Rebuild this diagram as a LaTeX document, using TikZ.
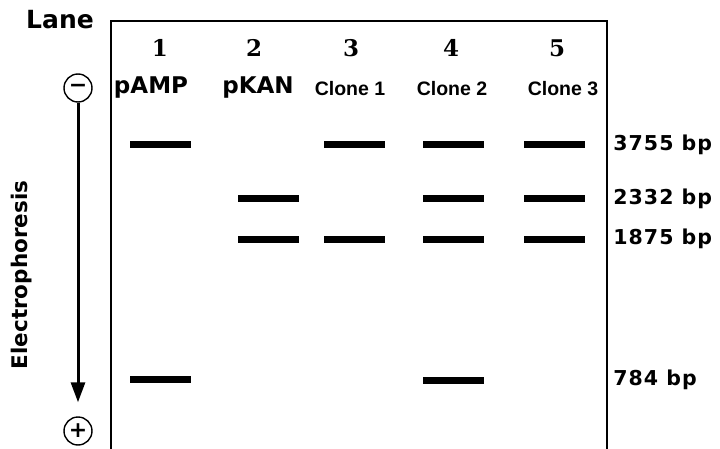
\documentclass[tikz,border=0pt]{standalone}
\usepackage{fontspec}
\newfontfamily\gelfont[LetterSpace=5]{DejaVu Sans}
\newfontfamily\headfont{DejaVu Sans}
\newfontfamily\numfont{DejaVu Serif}
\newfontfamily\clonefont{Liberation Sans}
\usetikzlibrary{arrows.meta,positioning}

\begin{document}
\begin{tikzpicture}[x=1pt,y=-1pt,thick,
  band/.style={rectangle,fill=black,minimum width=61pt,minimum height=7pt,inner sep=0pt},
  num label/.style={font=\numfont\fontsize{23}{23}\selectfont\bfseries},
  name label/.style={font=\headfont\fontsize{23}{23}\selectfont\bfseries},
  clone label/.style={font=\clonefont\fontsize{19.5}{19.5}\selectfont\bfseries},
  size label/.style={anchor=west,inner sep=0pt,font=\gelfont\fontsize{20.5}{20.5}\selectfont\bfseries},
  pole/.style={circle,draw,line width=1.4pt,minimum size=28pt,inner sep=0pt,font=\headfont\fontsize{22}{22}\selectfont\bfseries}]

  \useasboundingbox (0,0) rectangle (720,449);

  % gel frame
  \draw[line width=1.6pt] (111,449) -- (111,21) -- (607,21) -- (607,449);

  \node[font=\headfont\fontsize{25}{25}\selectfont\bfseries] (lane) at (60,20) {Lane};

  % lane headings
  \node[num label] (n1) at (160,48) {1};
  \node[num label] (n2) at (254,48) {2};
  \node[num label] (n3) at (351,48) {3};
  \node[num label] (n4) at (451,48) {4};
  \node[num label] (n5) at (557,48) {5};
  \node[name label] (l1) at (151,88) {pAMP};
  \node[name label] (l2) at (258,88) {pKAN};
  \node[clone label] (l3) at (350,89) {Clone 1};
  \node[clone label] (l4) at (452,89) {Clone 2};
  \node[clone label] (l5) at (563,89) {Clone 3};

  % bands
  \node[band] (b1a) at (160,145) {};
  \node[band] (b1d) at (160,379) {};
  \node[band] (b2b) at (268,199) {};
  \node[band] (b2c) at (268,239) {};
  \node[band] (b3a) at (354,145) {};
  \node[band] (b3c) at (354,239) {};
  \node[band] (b4a) at (453,145) {};
  \node[band] (b4b) at (453,199) {};
  \node[band] (b4c) at (453,239) {};
  \node[band] (b4d) at (453,380) {};
  \node[band] (b5a) at (554,145) {};
  \node[band] (b5b) at (554,199) {};
  \node[band] (b5c) at (554,239) {};

  % sizes
  \node[size label] (s1) at (613,145) {3755 bp};
  \node[size label] (s2) at (613,199) {2332 bp};
  \node[size label] (s3) at (613,239) {1875 bp};
  \node[size label] (s4) at (613,380) {784 bp};

  % direction of run
  \node[pole] (minus) at (78,88) {−};
  \node[pole] (plus) at (78,431) {+};
  \draw[-{Triangle[length=20pt,width=14pt]},line width=3pt,shorten >=14pt] (minus) -- (plus);
  \node[rotate=90,font=\headfont\fontsize{21.5}{21.5}\selectfont\bfseries] (ep) at (22,275) {Electrophoresis};
\end{tikzpicture}
\end{document}
